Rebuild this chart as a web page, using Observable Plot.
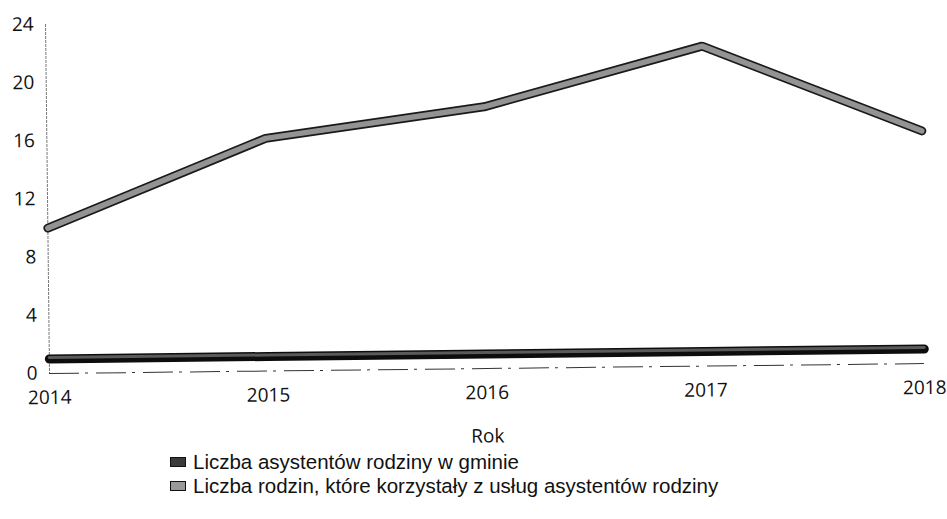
<!DOCTYPE html>
<html>
<head>
<meta charset="utf-8">
<script src="https://cdn.jsdelivr.net/npm/d3@7"></script>
<script src="https://cdn.jsdelivr.net/npm/@observablehq/plot@0.6"></script>
<style>
  html, body { margin: 0; padding: 0; background: #fff; }
  #wrap { position: relative; width: 947px; height: 519px; overflow: hidden; }
  #chart svg { display: block; transform: rotate(-0.65deg); transform-origin: 49px 373px; }
  #legend { position: absolute; left: 170px; top: 450px; font-family: "Liberation Sans", Arial, sans-serif;
            font-size: 20.5px; color: #111; line-height: 24px; }
  .row { display: flex; align-items: center; white-space: nowrap; height: 24px; }
  .sw { display: inline-block; width: 16px; height: 10px; margin-right: 7px; box-sizing: border-box; border: 1.5px solid #111; }
</style>
</head>
<body>
<div id="wrap">
  <div id="chart"></div>
  <div id="legend"></div>
</div>
<script>
const years = [2014, 2015, 2016, 2017, 2018];
const asystenci = [1, 1, 1, 1, 1];
const rodziny = [10, 16, 18, 22, 16];
const seriesNames = [
  "Liczba asystentów rodziny w gminie",
  "Liczba rodzin, które korzystały z usług asystentów rodziny"
];
const yTicks = [0, 4, 8, 12, 16, 20, 24];
const xLabel = "Rok";

const dataA = years.map((y, i) => ({year: y, value: asystenci[i]}));
const dataR = years.map((y, i) => ({year: y, value: rodziny[i]}));

const chart = Plot.plot({
  width: 947,
  height: 460,
  marginLeft: 49,
  marginRight: 23,
  marginTop: 24,
  marginBottom: 87,
  style: { fontFamily: "'Open Sans', sans-serif", fontSize: "19px", color: "#111", background: "transparent" },
  x: { domain: [2014, 2018] },
  y: { domain: [0, 24] },
  marks: [
    Plot.ruleX([2014], { stroke: "#777", strokeWidth: 1, strokeDasharray: "3,1" }),
    Plot.ruleY([0], { stroke: "#333", strokeWidth: 1, strokeDasharray: "30,6,3,8" }),
    Plot.axisY({ ticks: yTicks, tickSize: 0, tickPadding: 12, fontSize: 19, label: null }),
    Plot.axisX({ ticks: years, tickSize: 0, tickPadding: 17, tickFormat: d => String(d), fontSize: 19,
                 label: xLabel, labelAnchor: "center", labelArrow: "none", labelOffset: 74 }),
    Plot.line(dataR, { x: "year", y: "value", stroke: "#1a1a1a", strokeWidth: 9, strokeLinejoin: "miter" }),
    Plot.line(dataR, { x: "year", y: "value", stroke: "#939393", strokeWidth: 5.5, strokeLinejoin: "miter" }),
    Plot.line(dataA, { x: "year", y: "value", stroke: "#0d0d0d", strokeWidth: 9 }),
    Plot.line(dataA, { x: "year", y: "value", stroke: "#5a5a5a", strokeWidth: 3, dy: -1.5 })
  ]
});
document.getElementById("chart").appendChild(chart);

const legend = document.getElementById("legend");
const swFill = ["#3a3a3a", "#999"];
seriesNames.forEach((name, i) => {
  const row = document.createElement("div");
  row.className = "row";
  const sw = document.createElement("span");
  sw.className = "sw";
  sw.style.background = swFill[i];
  row.appendChild(sw);
  const t = document.createElement("span");
  t.textContent = name;
  row.appendChild(t);
  legend.appendChild(row);
});
</script>
</body>
</html>
